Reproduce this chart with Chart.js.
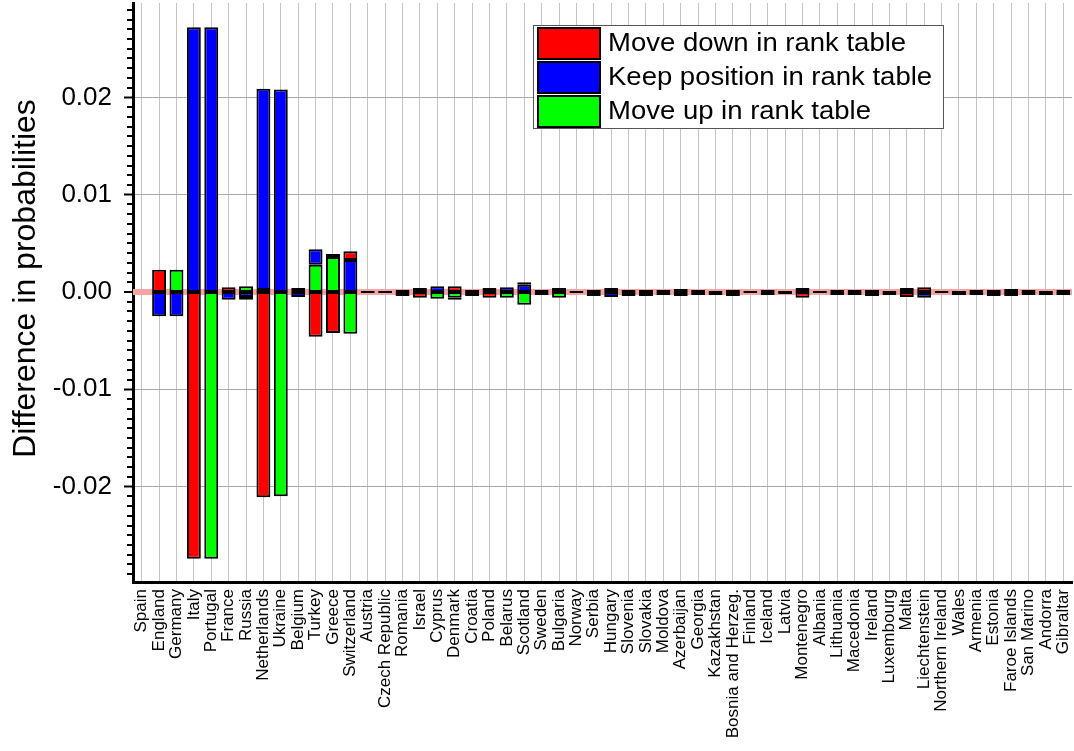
<!DOCTYPE html>
<html>
<head>
<meta charset="utf-8">
<script src="https://cdn.jsdelivr.net/npm/chart.js@4"></script>
<style>
    html, body { margin: 0; padding: 0; background: #ffffff; }
    #wrap { width: 1074px; height: 751px; position: relative; }
</style>
</head>
<body>
<div id="wrap"><canvas id="chart"></canvas></div>
<script>
// --------------------------------------------------
//  Data
// --------------------------------------------------
var countries = [
    'Spain', 'England', 'Germany', 'Italy', 'Portugal', 'France', 'Russia',
    'Netherlands', 'Ukraine', 'Belgium', 'Turkey', 'Greece', 'Switzerland',
    'Austria', 'Czech Republic', 'Romania', 'Israel', 'Cyprus', 'Denmark',
    'Croatia', 'Poland', 'Belarus', 'Scotland', 'Sweden', 'Bulgaria', 'Norway',
    'Serbia', 'Hungary', 'Slovenia', 'Slovakia', 'Moldova', 'Azerbaijan',
    'Georgia', 'Kazakhstan', 'Bosnia and Herzeg.', 'Finland', 'Iceland',
    'Latvia', 'Montenegro', 'Albania', 'Lithuania', 'Macedonia', 'Ireland',
    'Luxembourg', 'Malta', 'Liechtenstein', 'Northern Ireland', 'Wales',
    'Armenia', 'Estonia', 'Faroe Islands', 'San Marino', 'Andorra', 'Gibraltar'
];

var moveDown = [
    0, 0.0023, 0, -0.0274, 0, 0.0005, -0.0003,
    -0.0211, 0, 0.0004, -0.0046, -0.0042, 0.0009,
    0.0001, 0, 0, -0.0006, 0, 0.0006,
    0, -0.0006, 0, 0.00025, -0.0003, 0, -0.0001,
    -0.0004, 0.0004, -0.0004, 0.0002, -0.0003, 0,
    -0.0003, 0.0001, 0.0002, 0.0001, 0,
    -0.0002, -0.0006, 0, 0.0002, -0.0003, 0.0002,
    0.0001, -0.0005, 0.0005, 0.0001, 0.0001,
    -0.0003, 0.0002, 0, -0.0003, 0.0001, 0
];

var keepPosition = [
    0, -0.0025, -0.0025, 0.0272, 0.0272, -0.0008, -0.0005,
    0.0207, 0.0208, -0.0005, 0.0016, 0.0003, 0.0033,
    -0.0001, 0.0001, 0.0002, 0.0004, 0.0006, -0.0002,
    0.0002, 0, 0.0005, 0.00075, 0.0002, 0.0004, 0.0001,
    0.0002, -0.0005, 0.0002, -0.0004, 0.0002, -0.0004,
    0.0002, -0.0003, 0, -0.0001, -0.0003,
    0.0001, 0, 0.0001, -0.0003, 0.0002, 0,
    -0.0003, 0, -0.0005, -0.0001, -0.0003,
    0.0002, -0.0004, -0.0004, 0.0002, -0.0003, 0.0002
];

var moveUp = [
    0, 0, 0.0023, 0, -0.0274, 0, 0.0006,
    0.0002, -0.0210, 0, 0.0028, 0.0036, -0.0043,
    0, -0.0001, -0.0004, 0, -0.0007, -0.0006,
    -0.0004, 0.0004, -0.0006, -0.0013, 0, -0.0006, 0,
    0, 0, 0, 0, 0, 0.0003,
    0, 0, -0.0004, 0, 0.0002,
    0, 0.0004, -0.0001, 0, 0, -0.0004,
    0, 0.0004, -0.0001, 0, 0,
    0, 0, 0.0003, 0, 0, -0.0003
];

var seriesNames = ['Move down in rank table', 'Keep position in rank table', 'Move up in rank table'];
var seriesColors = ['#ff0000', '#0000ff', '#00ff00'];
var yTitle = 'Difference in probabilities';

var yMin = -0.0298;
var yMax = 0.0297;
var yMajorStep = 0.01;
var yMinorStep = 0.001;

var FONT = "'Liberation Sans', Arial, sans-serif";

function isZero(v) { return Math.abs(v) < 1e-9; }

// --------------------------------------------------
//  Pink zero band, under the bars
// --------------------------------------------------
var zeroBand = {
    id: 'zeroBand',
    beforeDatasetsDraw: function (chart) {
        var ctx = chart.ctx;
        var area = chart.chartArea;
        var py = chart.scales.y.getPixelForValue(0);
        ctx.save();
        ctx.fillStyle = '#f5a3a3';
        ctx.fillRect(area.left, py - 3, area.right - area.left, 6);
        ctx.restore();
    }
};

// --------------------------------------------------
//  Minor ticks + y title (sits a bit above centre)
// --------------------------------------------------
var yAxisExtras = {
    id: 'yAxisExtras',
    afterDraw: function (chart) {
        var y = chart.scales.y;
        var ctx = chart.ctx;
        var area = chart.chartArea;
        ctx.save();
        ctx.strokeStyle = '#000000';
        ctx.lineWidth = 2;
        var first = Math.ceil(yMin / yMinorStep);
        var last = Math.floor(yMax / yMinorStep);
        for (var i = first; i <= last; i++) {
            if (i % 10 === 0) continue;
            var py = Math.round(y.getPixelForValue(i * yMinorStep));
            ctx.beginPath();
            ctx.moveTo(area.left - 6, py);
            ctx.lineTo(area.left, py);
            ctx.stroke();
        }

        ctx.translate(26, (area.top + area.bottom) / 2 - 14);
        ctx.rotate(-Math.PI / 2);
        ctx.fillStyle = '#000000';
        ctx.font = '32px ' + FONT;
        ctx.textAlign = 'center';
        ctx.textBaseline = 'middle';
        ctx.fillText(yTitle, 0, 0);
        ctx.restore();
    }
};

// --------------------------------------------------
//  Framed legend inside the plot
// --------------------------------------------------
var boxLegend = {
    id: 'boxLegend',
    afterDraw: function (chart) {
        var ctx = chart.ctx;
        var bx = 533, by = 25, bw = 410, bh = 103;
        var rowH = 34;
        ctx.save();
        ctx.fillStyle = '#ffffff';
        ctx.fillRect(bx, by, bw, bh);
        ctx.strokeStyle = '#555555';
        ctx.lineWidth = 1;
        ctx.strokeRect(bx + 0.5, by + 0.5, bw, bh);

        for (var i = 0; i < seriesNames.length; i++) {
            var ry = by + 3 + i * rowH;
            ctx.fillStyle = seriesColors[i];
            ctx.fillRect(bx + 5, ry, 62, 31);
            ctx.strokeStyle = '#000000';
            ctx.lineWidth = 2;
            ctx.strokeRect(bx + 5, ry, 62, 31);

            ctx.save();
            ctx.translate(bx + 75, ry + 16);
            ctx.scale(1.1, 1);
            ctx.fillStyle = '#000000';
            ctx.font = '25px ' + FONT;
            ctx.textBaseline = 'middle';
            ctx.textAlign = 'left';
            ctx.fillText(seriesNames[i], 0, 0);
            ctx.restore();
        }
        ctx.restore();
    }
};

// --------------------------------------------------
//  Chart
// --------------------------------------------------
var barStyle = {
    borderColor: '#000000',
    borderWidth: 2,
    borderSkipped: false,
    inflateAmount: 0,
    barPercentage: 0.8,
    categoryPercentage: 1.0
};

// stacking order bottom-up: green, blue, red
var datasets = [
    Object.assign({ label: seriesNames[2], data: moveUp, backgroundColor: seriesColors[2] }, barStyle),
    Object.assign({ label: seriesNames[1], data: keepPosition, backgroundColor: seriesColors[1] }, barStyle),
    Object.assign({ label: seriesNames[0], data: moveDown, backgroundColor: seriesColors[0] }, barStyle)
];

new Chart(document.getElementById('chart').getContext('2d'), {
    type: 'bar',
    data: { labels: countries, datasets: datasets },
    plugins: [zeroBand, yAxisExtras, boxLegend],
    options: {
        responsive: true,
        maintainAspectRatio: false,
        animation: false,
        layout: { padding: { top: 3, right: 2, left: 0, bottom: 0 } },
        plugins: {
            legend: { display: false },
            tooltip: { enabled: false }
        },
        scales: {
            x: {
                stacked: true,
                afterFit: function (scale) {
                    scale.height = 169;
                    scale.paddingLeft = 0;
                    scale.paddingRight = 0;
                },
                border: { color: '#000000', width: 3 },
                grid: { offset: false, color: '#c4c4c4', lineWidth: 1, drawTicks: false },
                ticks: {
                    autoSkip: false,
                    minRotation: 90,
                    maxRotation: 90,
                    padding: 7,
                    color: '#000000',
                    font: { family: FONT, size: 17 }
                }
            },
            y: {
                stacked: true,
                min: yMin,
                max: yMax,
                afterFit: function (scale) {
                    scale.width = 133;
                    scale.paddingTop = 0;
                    scale.paddingBottom = 0;
                },
                border: { color: '#000000', width: 3 },
                grid: {
                    // zero line has no width so bars are not pulled off the base
                    color: function (c) { return isZero(c.tick.value) ? 'rgba(0,0,0,0)' : '#aaaaaa'; },
                    lineWidth: function (c) { return isZero(c.tick.value) ? 0 : 1; },
                    tickColor: '#000000',
                    tickLength: 9,
                    tickWidth: 2
                },
                ticks: {
                    stepSize: yMajorStep,
                    includeBounds: false,
                    padding: 12,
                    color: '#000000',
                    font: { family: FONT, size: 26 },
                    callback: function (v) { return (isZero(v) ? 0 : v).toFixed(2); }
                }
            }
        }
    }
});
</script>
</body>
</html>
